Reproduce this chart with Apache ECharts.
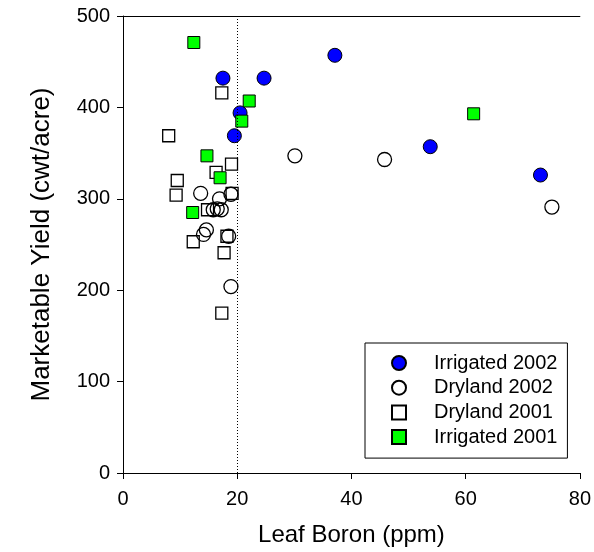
<!DOCTYPE html>
<html>
<head>
<meta charset="utf-8">
<script src="https://cdn.jsdelivr.net/npm/echarts@6/dist/echarts.min.js"></script>
<style>html,body{margin:0;padding:0;background:#fff;}#c{width:594px;height:552px;}</style>
</head>
<body>
<div id="c"></div>
<script>
const seriesNames = ['Irrigated 2002', 'Dryland 2002', 'Dryland 2001', 'Irrigated 2001'];
const irrigated2002 = [[17.5,432],[24.7,432],[20.5,394],[19.5,369],[37.1,457],[53.8,357],[73.1,326]];
const dryland2002 = [[30.1,347],[45.8,343],[75.1,291],[13.6,306],[18.9,305],[16.9,300],[15.8,288],[16.5,289],[17.2,288],[14.6,266],[14.1,261],[18.5,259],[18.9,204]];
const dryland2001 = [[17.3,416],[8.0,369],[19.0,338],[16.3,329],[9.5,320],[9.3,304],[19.1,306],[12.3,253],[14.8,288],[18.2,259],[17.7,241],[17.3,175]];
const irrigated2001 = [[12.4,471],[22.1,407],[20.8,385],[14.7,347],[17.0,323],[12.2,285],[61.4,393]];
const xTicks = {min: 0, max: 80, interval: 20};
const yTicks = {min: 0, max: 500, interval: 100};
const thresholdX = 20;

const font = 'Liberation Sans, Arial, sans-serif';
const chart = echarts.init(document.getElementById('c'), null, {renderer: 'canvas'});
const axisCommon = {
  axisLine: {show: true, lineStyle: {color: '#000', width: 1}},
  axisTick: {show: true, length: 6, lineStyle: {color: '#000', width: 1}},
  splitLine: {show: false},
  axisLabel: {color: '#000', fontSize: 20, fontFamily: font}
};
chart.setOption({
  animation: false,
  backgroundColor: '#fff',
  grid: {left: 123, right: 14, top: 16, bottom: 78, containLabel: false},
  legend: {
    orient: 'vertical', left: 365, top: 343,
    padding: [10, 10, 11, 26],
    itemGap: 4.7, itemWidth: 14, itemHeight: 14,
    borderColor: '#000', borderWidth: 1, backgroundColor: '#fff',
    textStyle: {color: '#000', fontSize: 20, fontFamily: font, lineHeight: 20, padding: [0, 0, 0, 23]},
    data: seriesNames
  },
  xAxis: [
    Object.assign({}, axisCommon, {
      type: 'value', min: xTicks.min, max: xTicks.max, interval: xTicks.interval,
      name: 'Leaf Boron (ppm)', nameLocation: 'middle', nameGap: 50,
      nameTextStyle: {color: '#000', fontSize: 24, fontFamily: font},
      axisLabel: Object.assign({}, axisCommon.axisLabel, {margin: 16})
    }),
    {type: 'value', position: 'top', min: xTicks.min, max: xTicks.max,
     axisLine: {show: true, lineStyle: {color: '#000', width: 1}},
     axisTick: {show: false}, axisLabel: {show: false}, splitLine: {show: false}}
  ],
  yAxis: Object.assign({}, axisCommon, {
    type: 'value', min: yTicks.min, max: yTicks.max, interval: yTicks.interval,
    name: 'Marketable Yield (cwt/acre)', nameLocation: 'middle', nameGap: 68,
    nameTextStyle: {color: '#000', fontSize: 26, fontFamily: font},
    axisLabel: Object.assign({}, axisCommon.axisLabel, {margin: 13})
  }),
  series: [
    {name: seriesNames[0], type: 'scatter', data: irrigated2002, symbol: 'circle', symbolSize: 14,
     itemStyle: {color: '#0000ff', borderColor: '#000', borderWidth: 1, opacity: 1},
     markLine: {silent: true, symbol: 'none', label: {show: false},
       lineStyle: {color: '#000', type: [1, 2], width: 1},
       data: [{xAxis: thresholdX}]}},
    {name: seriesNames[1], type: 'scatter', data: dryland2002, symbol: 'circle', symbolSize: 14,
     itemStyle: {color: 'rgba(255,255,255,0)', borderColor: '#000', borderWidth: 1.3, opacity: 1}},
    {name: seriesNames[2], type: 'scatter', data: dryland2001, symbol: 'rect', symbolSize: 12,
     itemStyle: {color: 'rgba(255,255,255,0)', borderColor: '#000', borderWidth: 1.3, opacity: 1}},
    {name: seriesNames[3], type: 'scatter', data: irrigated2001, symbol: 'rect', symbolSize: 12,
     itemStyle: {color: '#00ff00', borderColor: '#000', borderWidth: 1, opacity: 1}}
  ]
});
</script>
</body>
</html>
